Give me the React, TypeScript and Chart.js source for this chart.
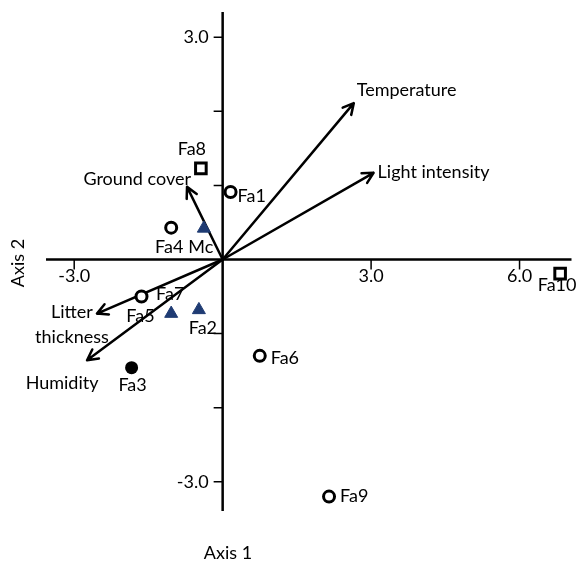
import React, { useEffect, useRef } from "react";
import { Chart, registerables } from "chart.js";

Chart.register(...registerables);

// ---- data ----
const openCircleNames = ["Fa1", "Fa4", "Fa5", "Fa6", "Fa9"];
const openCircleX = [0.16, -1.04, -1.64, 0.75, 2.15];
const openCircleY = [0.91, 0.43, -0.5, -1.3, -3.2];

const squareNames = ["Fa8", "Fa10"];
const squareX = [-0.44, 6.82];
const squareY = [1.23, -0.19];

const triangleNames = ["Mc", "Fa7", "Fa2"];
const triangleX = [-0.38, -1.04, -0.48];
const triangleY = [0.42, -0.73, -0.68];

const filledNames = ["Fa3"];
const filledX = [-1.84];
const filledY = [-1.46];

const vectorNames = ["Temperature", "Light intensity", "Ground cover", "Litter thickness", "Humidity"];
const vectorX = [2.65, 3.05, -0.72, -2.54, -2.74];
const vectorY = [2.11, 1.17, 0.98, -0.73, -1.36];

const xTickValues = [-3, 3, 6];
const xTickLabels = ["-3.0", "3.0", "6.0"];
const yTickValues = [-3, -2, -1, 1, 2, 3];
const yTickLabels = ["-3.0", "", "", "", "", "3.0"];

const xTitle = "Axis 1";
const yTitle = "Axis 2";

// ---- label placement (pixel offsets from the mark) ----
type Place = { dx: number; dy: number; align: CanvasTextAlign };
const pointLabelPlace: Record<string, Place> = {
  Fa1: { dx: 7, dy: 4, align: "left" },
  Fa4: { dx: -2, dy: 20, align: "center" },
  Fa5: { dx: -1, dy: 20, align: "center" },
  Fa6: { dx: 11, dy: 2, align: "left" },
  Fa9: { dx: 11, dy: 0, align: "left" },
  Fa8: { dx: -9, dy: -19, align: "center" },
  Fa10: { dx: -3, dy: 12, align: "center" },
  Mc: { dx: -3, dy: 19, align: "center" },
  Fa7: { dx: -1, dy: -19, align: "center" },
  Fa2: { dx: 4, dy: 18, align: "center" },
  Fa3: { dx: 1, dy: 17, align: "center" },
};
const vectorLabelPlace: Record<string, { dx: number; dy: number; align: CanvasTextAlign; lines: string[] }> = {
  Temperature: { dx: 3, dy: -13, align: "left", lines: ["Temperature"] },
  "Light intensity": { dx: 4, dy: -1, align: "left", lines: ["Light intensity"] },
  "Ground cover": { dx: 4, dy: -8, align: "right", lines: ["Ground cover"] },
  "Litter thickness": { dx: -25, dy: -1.5, align: "center", lines: ["Litter", "thickness"] },
  Humidity: { dx: -25, dy: 23, align: "center", lines: ["Humidity"] },
};

const FONT = "18px Lato, 'Liberation Sans', sans-serif";

function pts(xs: number[], ys: number[]) {
  return xs.map((x, i) => ({ x, y: ys[i] }));
}

const overlayPlugin = {
  id: "ordinationOverlay",
  beforeDatasetsDraw(chart: any) {
    const { ctx, chartArea, scales } = chart;
    const xs = scales.x;
    const ys = scales.y;
    const x0 = xs.getPixelForValue(0);
    const y0 = ys.getPixelForValue(0);
    ctx.save();
    ctx.strokeStyle = "#000";
    ctx.fillStyle = "#000";
    ctx.lineWidth = 2.5;
    ctx.lineCap = "butt";
    // axes
    ctx.beginPath();
    ctx.moveTo(chartArea.left, y0);
    ctx.lineTo(chartArea.right, y0);
    ctx.moveTo(x0, chartArea.top);
    ctx.lineTo(x0, chartArea.bottom);
    ctx.stroke();
    // ticks
    ctx.lineWidth = 1.5;
    ctx.beginPath();
    xTickValues.forEach((v) => {
      const px = xs.getPixelForValue(v);
      ctx.moveTo(px, y0);
      ctx.lineTo(px, y0 + 10);
    });
    yTickValues.forEach((v) => {
      const py = ys.getPixelForValue(v);
      ctx.moveTo(x0 - 9, py);
      ctx.lineTo(x0, py);
    });
    ctx.stroke();
    ctx.font = FONT;
    ctx.textBaseline = "middle";
    ctx.textAlign = "center";
    xTickValues.forEach((v, i) => {
      ctx.fillText(xTickLabels[i], xs.getPixelForValue(v), y0 + 17);
    });
    ctx.textAlign = "right";
    yTickValues.forEach((v, i) => {
      if (yTickLabels[i]) ctx.fillText(yTickLabels[i], x0 - 14, ys.getPixelForValue(v));
    });
    // vectors
    ctx.lineWidth = 2.5;
    ctx.lineCap = "round";
    ctx.lineJoin = "round";
    vectorNames.forEach((name, i) => {
      const tx = xs.getPixelForValue(vectorX[i]);
      const ty = ys.getPixelForValue(vectorY[i]);
      const ang = Math.atan2(ty - y0, tx - x0);
      const head = 12;
      const spread = Math.PI / 6.5;
      ctx.beginPath();
      ctx.moveTo(x0, y0);
      ctx.lineTo(tx, ty);
      ctx.moveTo(tx - head * Math.cos(ang - spread), ty - head * Math.sin(ang - spread));
      ctx.lineTo(tx, ty);
      ctx.lineTo(tx - head * Math.cos(ang + spread), ty - head * Math.sin(ang + spread));
      ctx.stroke();
      const p = vectorLabelPlace[name];
      ctx.textAlign = p.align;
      p.lines.forEach((line, k) => {
        ctx.fillText(line, tx + p.dx, ty + p.dy + k * 25);
      });
    });
    // axis titles
    ctx.textAlign = "center";
    ctx.fillText(xTitle, 228, 553);
    ctx.save();
    ctx.translate(18, 263);
    ctx.rotate(-Math.PI / 2);
    ctx.fillText(yTitle, 0, 0);
    ctx.restore();
    ctx.restore();
  },
  afterDatasetsDraw(chart: any) {
    const { ctx, scales } = chart;
    const xs = scales.x;
    const ys = scales.y;
    ctx.save();
    ctx.font = FONT;
    ctx.fillStyle = "#000";
    ctx.textBaseline = "middle";
    const groups: [string[], number[], number[]][] = [
      [openCircleNames, openCircleX, openCircleY],
      [squareNames, squareX, squareY],
      [triangleNames, triangleX, triangleY],
      [filledNames, filledX, filledY],
    ];
    groups.forEach(([names, gx, gy]) => {
      names.forEach((n, i) => {
        const p = pointLabelPlace[n];
        ctx.textAlign = p.align;
        ctx.fillText(n, xs.getPixelForValue(gx[i]) + p.dx, ys.getPixelForValue(gy[i]) + p.dy);
      });
    });
    ctx.restore();
  },
};

export default function App() {
  const ref = useRef<HTMLCanvasElement | null>(null);
  useEffect(() => {
    if (!ref.current) return;
    const chart = new Chart(ref.current, {
      type: "scatter",
      data: {
        datasets: [
          {
            label: "open circles",
            data: pts(openCircleX, openCircleY),
            pointStyle: "circle",
            radius: 5.5,
            borderWidth: 3,
            borderColor: "#000",
            backgroundColor: "#fff",
          },
          {
            label: "squares",
            data: pts(squareX, squareY),
            pointStyle: "rect",
            radius: 7.5,
            borderWidth: 3,
            borderColor: "#000",
            backgroundColor: "#fff",
          },
          {
            label: "triangles",
            data: pts(triangleX, triangleY),
            pointStyle: "triangle",
            radius: 7.5,
            borderWidth: 1,
            borderColor: "#1f3b73",
            backgroundColor: "#1f3b73",
          },
          {
            label: "triangle centers",
            data: pts(triangleX, triangleY),
            pointStyle: "circle",
            radius: 1,
            borderWidth: 0,
            backgroundColor: "#000",
          },
          {
            label: "filled",
            data: pts(filledX, filledY),
            pointStyle: "circle",
            radius: 6.5,
            borderWidth: 0,
            backgroundColor: "#000",
          },
        ],
      },
      options: {
        animation: false,
        responsive: false,
        devicePixelRatio: 1,
        layout: { padding: { left: 46, right: 5, top: 12, bottom: 52 } },
        plugins: { legend: { display: false }, tooltip: { enabled: false } },
        scales: {
          x: { type: "linear", display: false, min: -3.57, max: 7.05 },
          y: { type: "linear", display: false, min: -3.394, max: 3.34 },
        },
      },
      plugins: [overlayPlugin],
    });
    return () => chart.destroy();
  }, []);
  return (
    <div style={{ position: "absolute", left: 0, top: 0, width: 582, height: 563, background: "#fff" }}>
      <canvas ref={ref} width={582} height={563} />
    </div>
  );
}
